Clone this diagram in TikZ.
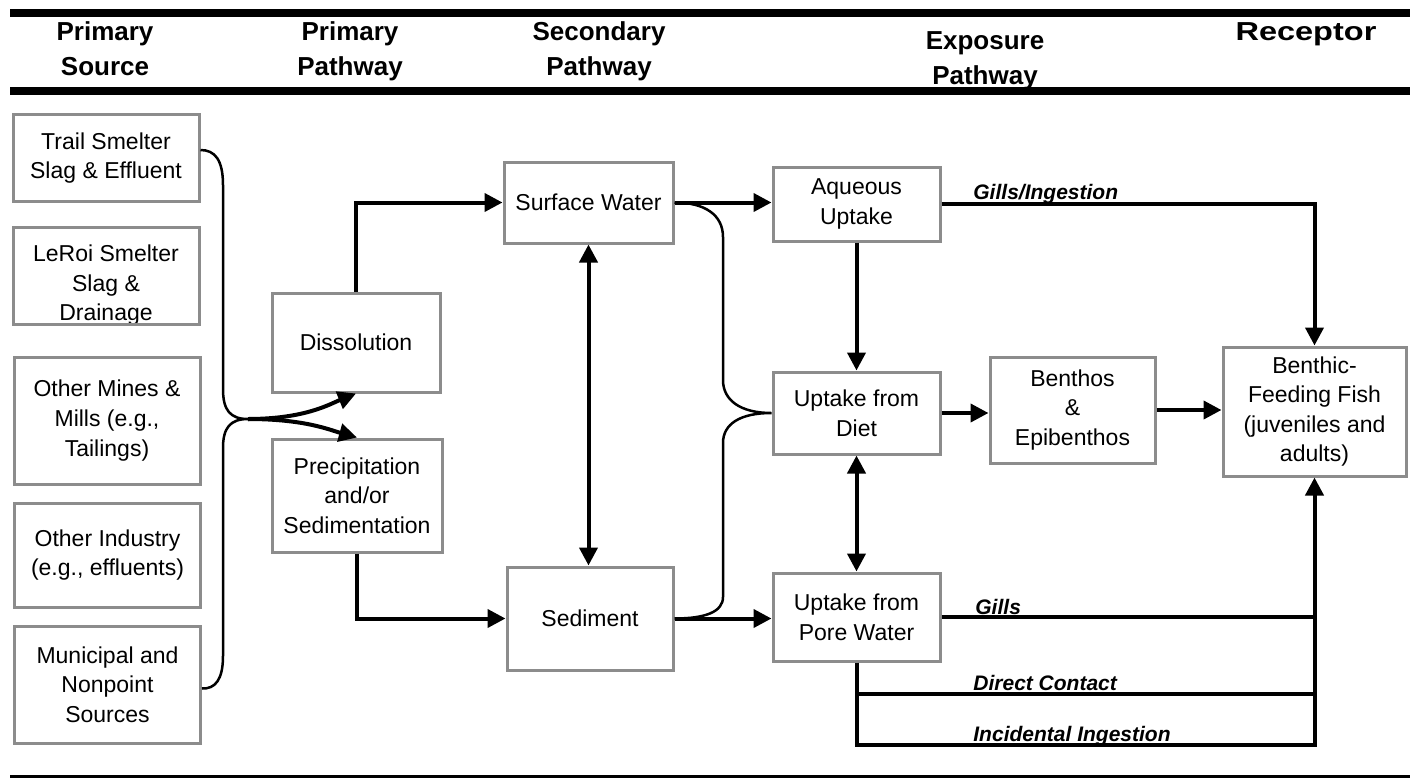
\documentclass[tikz,border=0pt]{standalone}
\usepackage{fontspec}
\setmainfont{Liberation Sans}
\newfontfamily\widefont[FakeStretch=1.25]{Liberation Sans}
\usetikzlibrary{arrows.meta}

\begin{document}
\begin{tikzpicture}[
    x=0.5pt, y=-0.5pt,
    every node/.style={font=\fontsize{11.5}{14.8}\selectfont, align=center, inner sep=2pt},
    box/.style={draw=black!45, line width=1.5pt},
    srcbox/.style={box, minimum width=93pt},
    midbox/.style={box, minimum width=84pt},
    hdr/.style={font=\fontsize{13}{17.5}\selectfont\bfseries, anchor=base},
    route/.style={font=\fontsize{10.5}{12}\selectfont\bfseries\itshape, anchor=base west, inner sep=0pt},
    arrow/.style={-{Triangle[length=9pt,width=9pt]}, line width=2pt},
    dblarrow/.style={{Triangle[length=9pt,width=9pt]}-{Triangle[length=9pt,width=9pt]}, line width=2pt},
    link/.style={line width=2pt},
    brace/.style={line width=1.25pt}
]
    \useasboundingbox (0,0) rectangle (1410,778);
    \fill[white] (0,0) rectangle (1410,778);

    % Header rules and column titles
    \draw[line width=4pt] (10,13) -- (1410,13);
    \draw[line width=4pt] (10,91) -- (1410,91);
    \draw[line width=1.5pt] (10,776) -- (1410,776);
    \node[hdr] (hsrc) at (105,75) {Primary\\Source};
    \node[hdr] (hpri) at (350,75) {Primary\\Pathway};
    \node[hdr] (hsec) at (599,75) {Secondary\\Pathway};
    \node[hdr] (hexp) at (985,84) {Exposure\\Pathway};
    \node[hdr, font=\widefont\fontsize{13}{17.5}\selectfont\bfseries] (hrec) at (1306,40) {Receptor};

    % Column 1: Primary sources
    \node[srcbox, minimum height=43.5pt] (trail) at (106,158) {Trail Smelter\\Slag \& Effluent};
    \node[anchor=south, inner sep=0pt] (leroitxt) at (106,326) {LeRoi Smelter\\Slag \&\\Drainage};
    \node[srcbox, minimum height=48.5pt] (leroi) at (106,275.5) {};
    \node[srcbox, minimum height=63.5pt] (mines) at (107,420.5) {Other Mines \&\\Mills (e.g.,\\Tailings)};
    \node[srcbox, minimum height=52pt] (industry) at (107.5,555) {Other Industry\\(e.g., effluents)};
    \node[srcbox, minimum height=58.5pt] (municipal) at (107.5,684.5) {Municipal and\\Nonpoint\\Sources};

    % Column 2: Primary pathways
    \node[midbox, minimum height=49.5pt] (diss) at (356,342.5) {Dissolution};
    \node[midbox, minimum width=85pt, minimum height=56.5pt] (precip) at (357,495.5) {Precipitation\\and/or\\Sedimentation};

    % Column 3: Secondary pathways
    \node[midbox, minimum width=84.5pt, minimum height=40.5pt] (surf) at (588.5,202.5) {Surface Water};
    \node[midbox, minimum width=83pt, minimum height=51.5pt] (sed) at (590,618.5) {Sediment};

    % Column 4: Exposure pathways
    \node[midbox, minimum width=83.5pt, minimum height=37pt] (aque) at (856.5,204) {Aqueous\\Uptake};
    \node[midbox, minimum width=83.5pt, minimum height=41pt] (diet) at (856.5,413) {Uptake from\\Diet};
    \node[midbox, minimum width=83.5pt, minimum height=44pt] (pore) at (856.5,617) {Uptake from\\Pore Water};
    \node[midbox, minimum width=82.5pt, minimum height=53pt] (benth) at (1072.5,410) {Benthos\\\&\\Epibenthos};

    % Column 5: Receptor
    \node[box, minimum width=91.5pt, minimum height=64.5pt] (fish) at (1314.5,411.5) {Benthic-\\Feeding Fish\\(juveniles and\\adults)};

    % Source brace and fork
    \coordinate (srctip) at (248,419);
    \draw[brace] ([yshift=4pt]trail.east) .. controls (215,150) and (223,160) .. (223,185)
        -- (223,389) .. controls (223,410) and (230,419) .. (srctip)
        .. controls (230,419) and (223,428) .. (223,448)
        -- (223,656) .. controls (223,680) and (215,689) .. ([yshift=-2pt]municipal.east);
    \draw[arrow] (srctip) .. controls (305,419) and (330,404) .. (diss.south);
    \draw[arrow] (srctip) .. controls (305,419) and (330,430) .. (precip.north);

    % Media brace into diet
    \draw[brace] (surf.east) .. controls (705,202.5) and (723,215) .. (723,237)
        -- (723,380) .. controls (723,400) and (740,413) .. (diet.west)
        .. controls (740,413) and (723,424) .. (723,443)
        -- (723,597) .. controls (723,612) and (705,618.5) .. (sed.east);

    % Arrows
    \draw[arrow] (diss.north) |- (surf.west);
    \draw[arrow] (precip.south) |- (sed.west);
    \draw[dblarrow] (surf.south) -- (surf.south |- sed.north);
    \draw[arrow] (surf.east) -- (surf.east -| aque.west);
    \draw[arrow] (sed.east) -- (sed.east -| pore.west);
    \draw[arrow] (aque.south) -- (diet.north);
    \draw[dblarrow] (diet.south) -- (pore.north);
    \draw[arrow] (diet.east) -- (diet.east -| benth.west);
    \draw[arrow] (benth.east) -- (benth.east -| fish.west);
    \draw[arrow] (aque.east) -| (fish.north);

    % Routes from pore water
    \coordinate (dcend) at (1314.5,694);
    \coordinate (igend) at (1314.5,745);
    \draw[link] (pore.east) -- (pore.east -| fish.south);
    \draw[link] (pore.south |- dcend) -- (dcend);
    \draw[arrow] (pore.south) |- (igend) -- (fish.south);

    % Route labels
    \node[route] (lgi) at (973,199) {Gills/Ingestion};
    \node[route] (lgills) at (975,614) {Gills};
    \node[route] (ldc) at (973,690) {Direct Contact};
    \node[route] (lii) at (973,741) {Incidental Ingestion};
\end{tikzpicture}
\end{document}
